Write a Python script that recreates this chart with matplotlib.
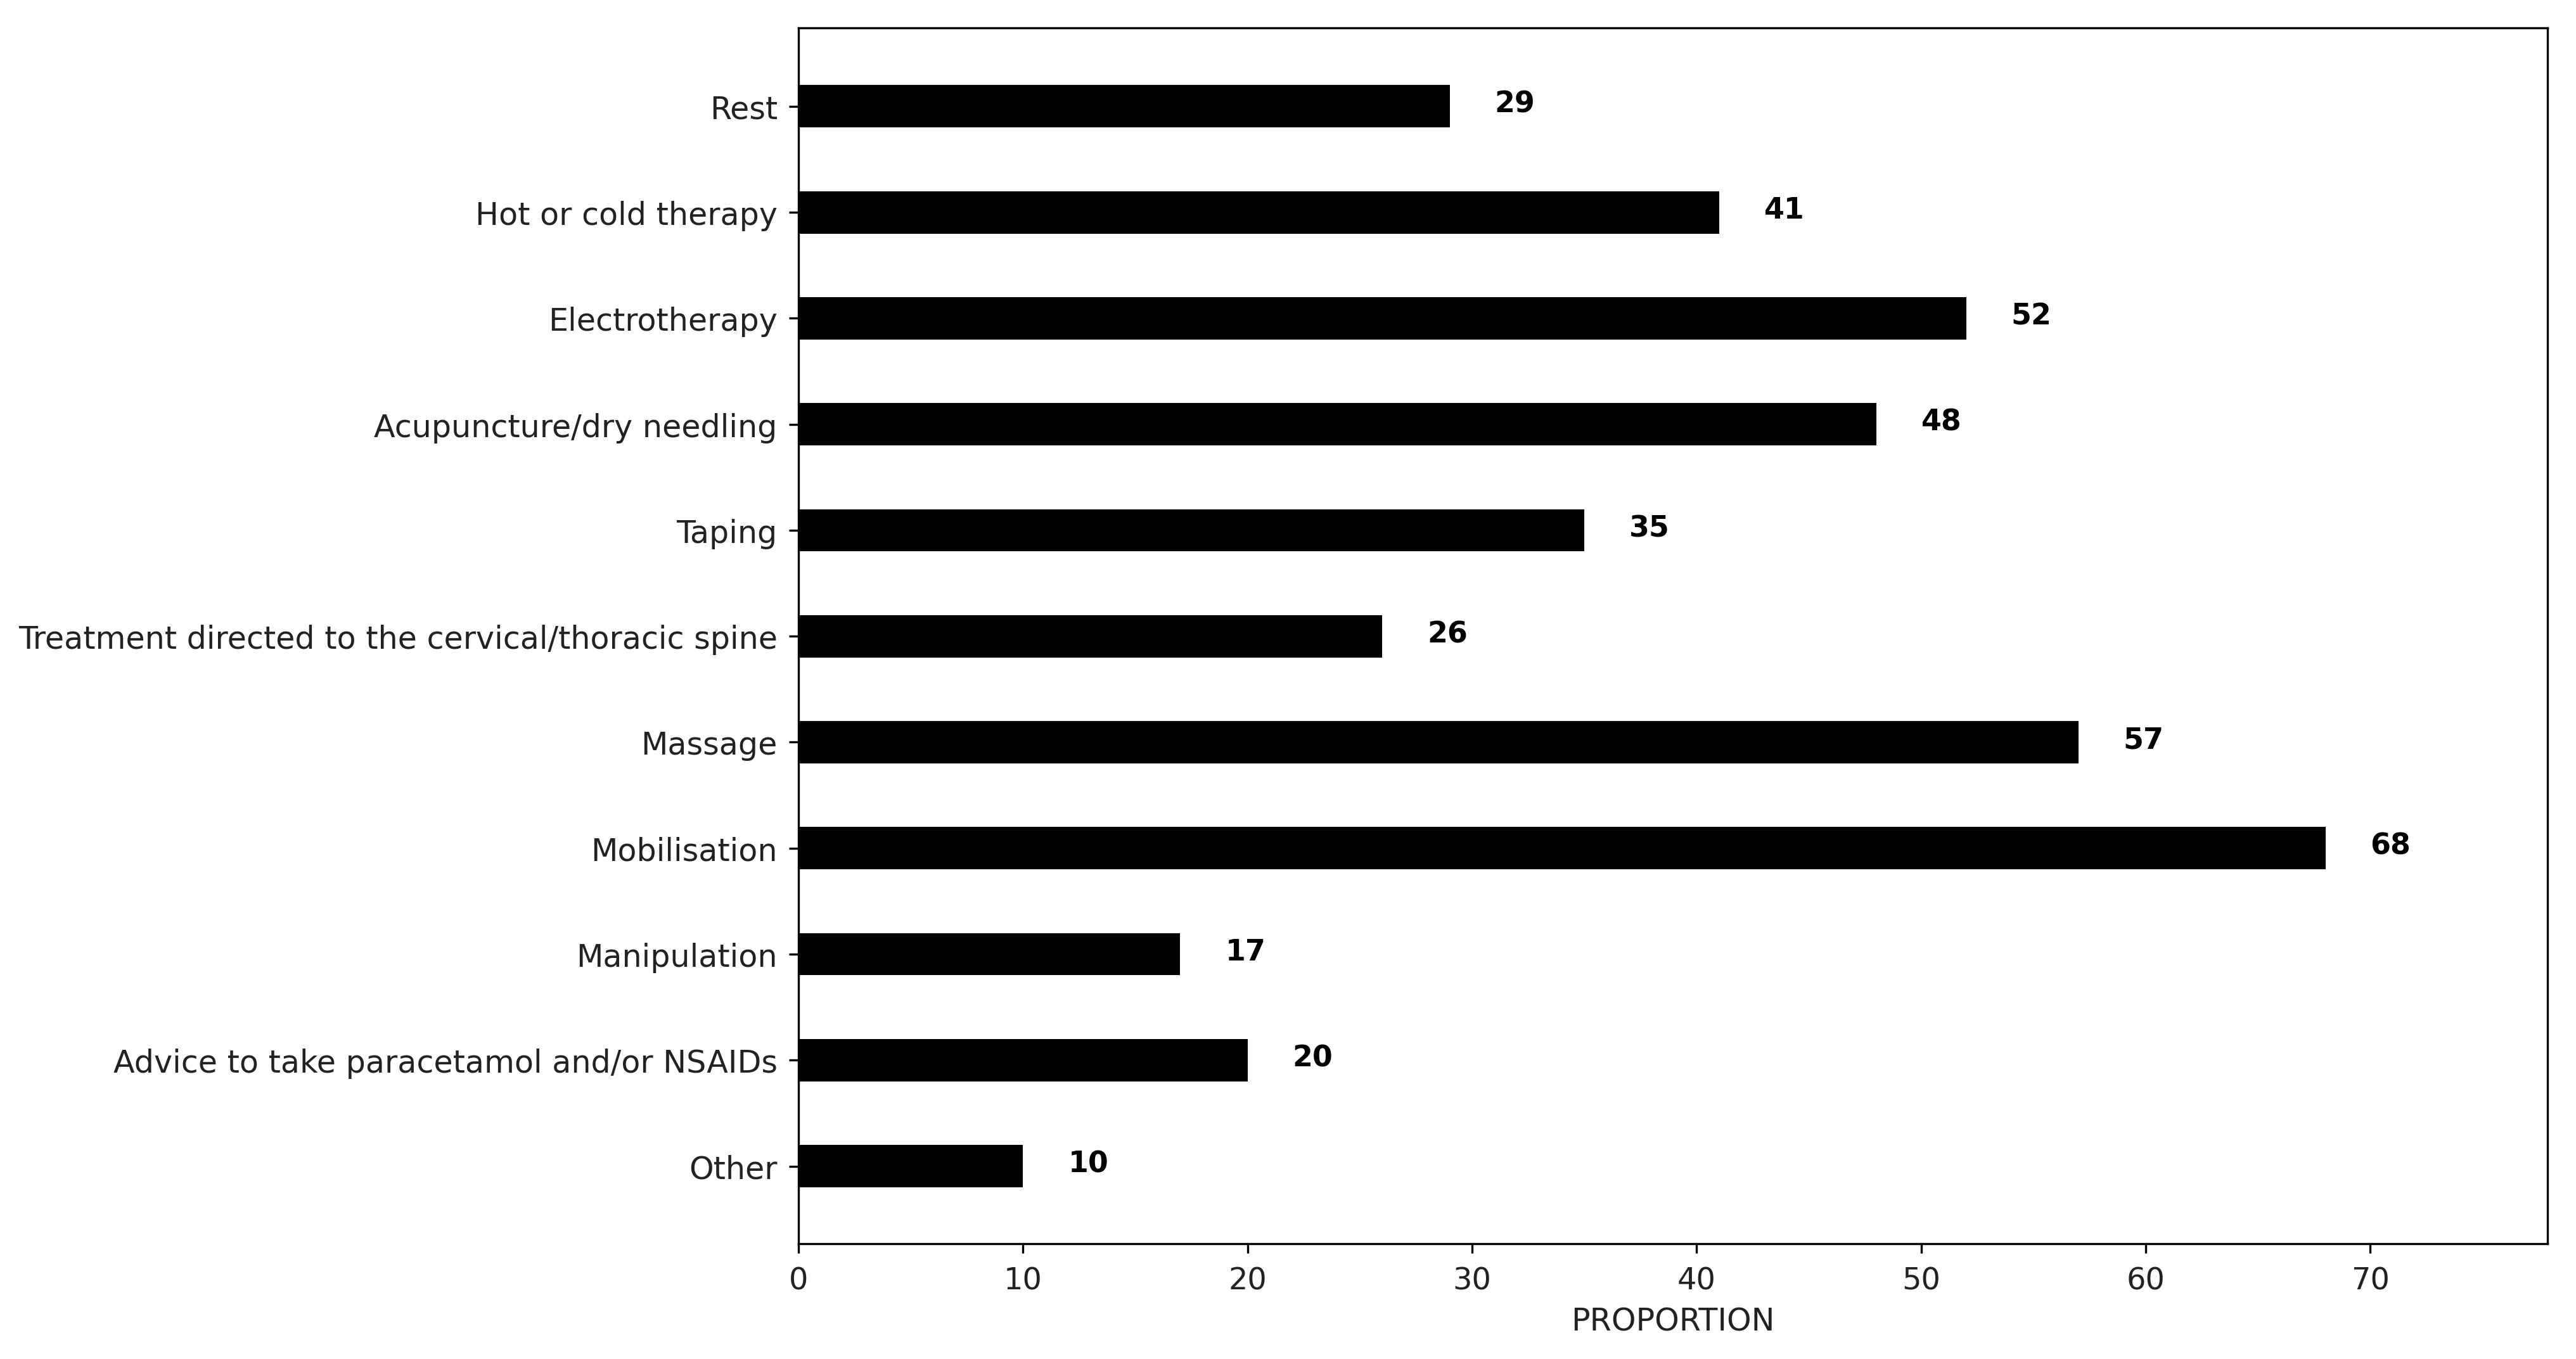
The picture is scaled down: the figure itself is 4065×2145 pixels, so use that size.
import matplotlib
matplotlib.use('Agg')
import matplotlib.pyplot as plt

# data, top to bottom as shown
categories = ['Rest', 'Hot or cold therapy', 'Electrotherapy', 'Acupuncture/dry needling',
              'Taping', 'Treatment directed to the cervical/thoracic spine', 'Massage',
              'Mobilisation', 'Manipulation', 'Advice to take paracetamol and/or NSAIDs', 'Other']
values = [29, 41, 52, 48, 35, 26, 57, 68, 17, 20, 10]

fig = plt.figure(figsize=(13.55, 7.153), dpi=300)
ax = fig.add_axes([0.31, 0.085, 0.679, 0.894])

pos = list(range(len(categories)))
ax.barh(pos, values, height=0.4, color='black')

for p, v in zip(pos, values):
    ax.text(v + 2, p - 0.02, str(v), va='center', ha='left', fontsize=11, fontweight='bold')

ax.set_yticks(pos)
ax.set_yticklabels(categories, fontsize=11.8, color='#222222')
ax.set_ylim(len(categories) - 1 + 0.73, -0.74)
ax.set_xlim(0, 77.9)
ax.set_xticks([0, 10, 20, 30, 40, 50, 60, 70])
ax.tick_params(axis='x', labelsize=11.5, labelcolor='#222222', pad=5)
ax.tick_params(axis='y', pad=4.5)
ax.set_xlabel('PROPORTION', fontsize=11.8, color='#222222', labelpad=4)

fig.savefig('out.png', dpi=300)
